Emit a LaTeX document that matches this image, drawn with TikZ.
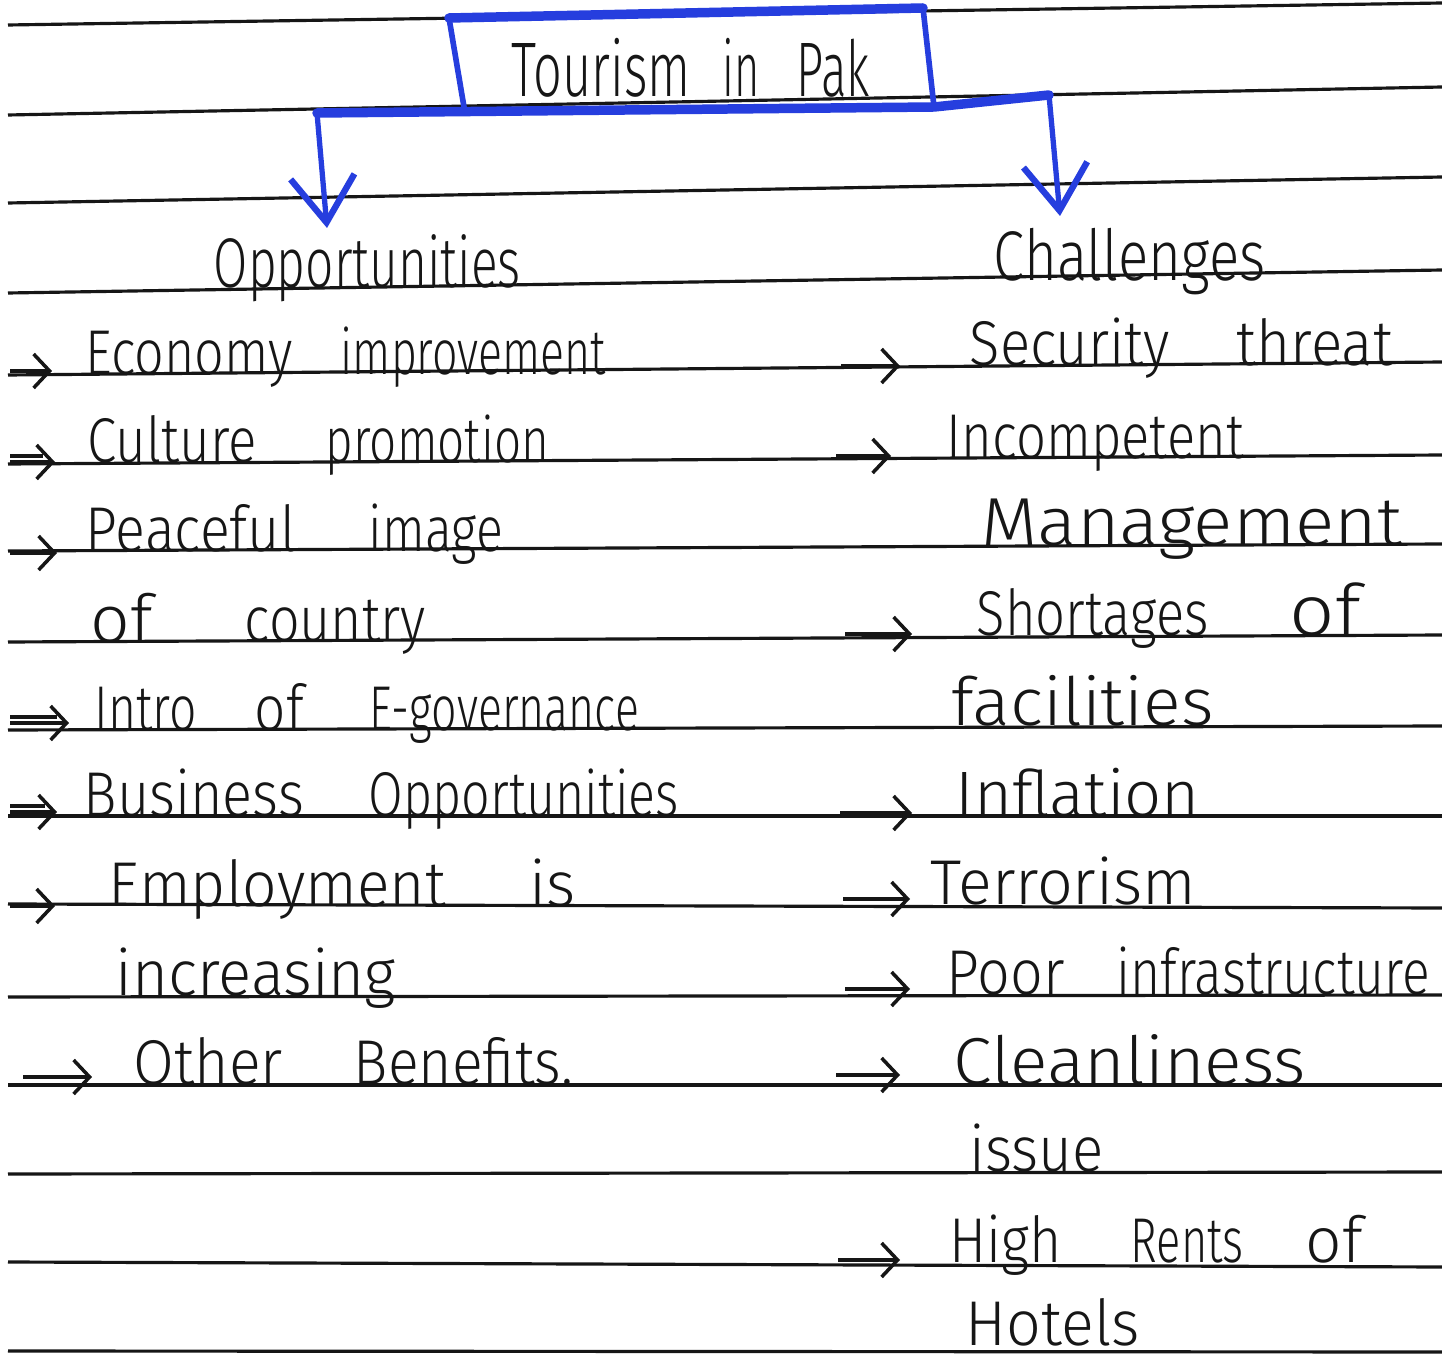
\documentclass[tikz,border=0pt]{standalone}
\usepackage{fontspec}
\usepackage{graphicx}
\IfFontExistsTF{Fira Sans Light}{\setsansfont{Fira Sans Light}}{\setsansfont{Fira Sans}}
\usetikzlibrary{arrows.meta}
\definecolor{penblue}{RGB}{38,62,222}
\definecolor{ink}{RGB}{22,22,22}
\tikzset{
  rule/.style={line width=0.9pt, draw=ink},
  hw/.style={anchor=base west, inner sep=0pt, text=ink, font=\sffamily\fontsize{18}{20}\selectfont},
  headtxt/.style={hw, font=\sffamily\fontsize{20}{22}\selectfont},
  titletxt/.style={hw, font=\sffamily\fontsize{22}{24}\selectfont},
  listarrow/.style={line width=1pt, draw=ink, -{Straight Barb[length=1.6mm,width=3.4mm,line width=1pt]}},
  boxside/.style={draw=penblue, line width=1.6pt},
  boxbar/.style={draw=penblue, line width=2.7pt, line cap=round, line join=round},
  bluearrow/.style={draw=penblue, line width=1.5pt, -{Straight Barb[length=4.6mm,width=6.4mm,line width=1.8pt]}},
}
% word of a given width (cm); a stretched word also grows in height (square root of the factor)
\newsavebox\wordbox
\newlength\wordlen
\newcommand\fw[2]{%
  \sbox\wordbox{#2}\wordlen=\wd\wordbox
  \pgfmathsetmacro\wsx{#1*28.45274/\wordlen}%
  \pgfmathsetmacro\wsy{sqrt(max(\wsx,1))}%
  \scalebox{\wsx}[\wsy]{\usebox\wordbox}}
\newcommand\gap[1]{\hspace{#1cm}}
\begin{document}
\begin{tikzpicture}[x=0.01cm, y=-0.01cm]
\useasboundingbox (0,0) rectangle (1442,1358);
\fill[white] (0,0) rectangle (1442,1358);

% ruled lines of the paper
\foreach \yl/\yr in {25/3, 115/87, 203/177, 293/270, 375/362, 464/455, 551/544, 642/635, 730/726, 816/816, 904/908, 997/995, 1085/1085, 1174/1172, 1262/1267, 1351/1352}
  \draw[rule] (8,\yl) -- (1442,\yr);

% title box
\coordinate (bTL) at (449,18);
\coordinate (bTR) at (923,8);
\coordinate (bBR) at (934,107);
\coordinate (bBL) at (465,113);
\draw[boxbar] (bTL) -- (bTR);
\draw[boxside] (bTL) -- (bBL);
\draw[boxside] (bTR) -- (bBR);
\node[titletxt] (title) at (511,97) {\fw{1.79}{Tourism}\gap{0.32}\fw{0.37}{in}\gap{0.37}\fw{0.73}{Pak}};

% branching bar and arrows
\coordinate (barL) at (317,113);
\coordinate (barR) at (1049,95);
\coordinate (tipL) at (327,228);
\coordinate (tipR) at (1060,216);
\draw[boxbar] (barL) -- (bBR) -- (barR);
\draw[bluearrow] (barL) -- (tipL);
\draw[bluearrow] (barR) -- (tipR);

% headings
\node[headtxt] (opp) at (213,288) {\fw{3.07}{Opportunities}};
\node[headtxt] (chal) at (993,281) {\fw{2.72}{Challenges}};

% opportunities list
\node[hw] (e1) at (85,375) {\fw{2.07}{Economy}\gap{0.48}\fw{2.65}{improvement}};
\node[hw] (e2) at (87,463) {\fw{1.69}{Culture}\gap{0.69}\fw{2.23}{promotion}};
\node[hw] (e3) at (85,551) {\fw{2.10}{Peaceful}\gap{0.73}\fw{1.34}{image}};
\node[hw] (e3b) at (90,642) {\fw{0.62}{of}\gap{0.92}\fw{1.81}{country}};
\node[hw] (e4) at (94,731) {\fw{1.02}{Intro}\gap{0.58}\fw{0.49}{of}\gap{0.66}\fw{2.69}{E-governance}};
\node[hw] (e5) at (83,816) {\fw{2.20}{Business}\gap{0.65}\fw{3.10}{Opportunities}};
\node[hw] (e6) at (108,906) {\fw{3.37}{Employment}\gap{0.84}\fw{0.46}{is}};
\node[hw] (e6b) at (115,995) {\fw{2.80}{increasing}};
\node[hw] (e7) at (133,1084) {\fw{1.49}{Other}\gap{0.71}\fw{2.19}{Benefits.}};

% challenges list
\node[hw] (c1) at (969,366) {\fw{2.00}{Security}\gap{0.67}\fw{1.56}{threat}};
\node[hw] (c2) at (946,459) {\fw{2.97}{Incompetent}};
\node[hw] (c2b) at (981,546) {\fw{4.20}{Management}};
\node[hw] (c3) at (976,636) {\fw{2.32}{Shortages}\gap{0.81}\fw{0.71}{of}};
\node[hw] (c3b) at (951,725) {\fw{2.62}{facilities}};
\node[hw] (c4) at (955,816) {\fw{2.44}{Inflation}};
\node[hw] (c5) at (930,904) {\fw{2.65}{Terrorism}};
\node[hw] (c6) at (946,994) {\fw{1.18}{Poor}\gap{0.52}\fw{3.13}{infrastructure}};
\node[hw] (c7) at (953,1084) {\fw{3.52}{Cleanliness}};
\node[hw] (c7b) at (969,1171) {\fw{1.34}{issue}};
\node[hw] (c8) at (949,1262) {\fw{1.12}{High}\gap{0.69}\fw{1.13}{Rents}\gap{0.62}\fw{0.57}{of}};
\node[hw] (c8b) at (965,1345) {\fw{1.74}{Hotels}};

% bullet arrows
\foreach \n/\xa/\xb/\yy in {e1/10/52/371, e2/10/55/462, e3/10/57/553, e4/10/69/723, e5/10/57/812, e6/10/55/906, e7/23/92/1077,
  c1/841/900/366, c2/836/891/456, c3/845/912/634, c4/840/912/813, c5/843/910/899, c6/845/910/989, c7/836/900/1075, c8/838/900/1260}
{
  \coordinate (a\n) at (\xa,\yy);
  \coordinate (z\n) at (\xb,\yy);
  \draw[listarrow] (a\n) -- (z\n);
}
% second shafts of the double arrows
\foreach \n in {e2, e4, e5}
  \draw[line width=1pt, draw=ink] ([yshift=0.6mm]a\n) -- ([xshift=-1.2mm, yshift=0.6mm]z\n);
\end{tikzpicture}
\end{document}
